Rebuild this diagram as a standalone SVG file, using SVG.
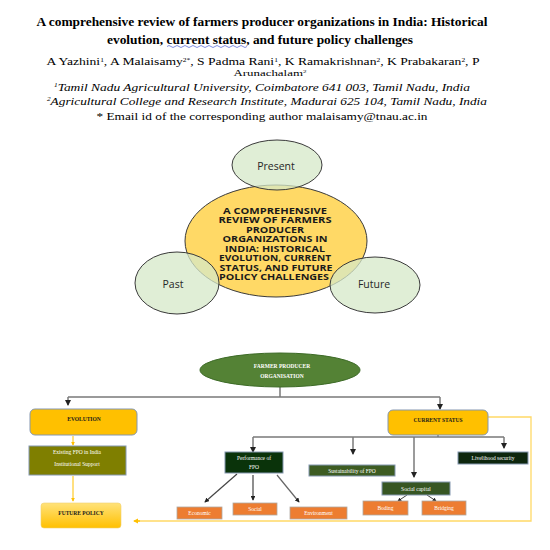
<svg xmlns="http://www.w3.org/2000/svg" width="550" height="550" viewBox="0 0 550 550">
<defs>
<style>
.hd{font-family:"Liberation Serif","Times New Roman",serif;fill:#000;text-anchor:middle}
.vt{font-family:"Open Sans","Liberation Sans",sans-serif;fill:#262626;text-anchor:middle}
.ct{font-family:"Open Sans","Liberation Sans",sans-serif;fill:#1a1a1a;text-anchor:middle;font-weight:bold;font-size:8.3px}
.st{font-family:"Liberation Serif","Times New Roman",serif;text-anchor:middle;font-size:5.5px}
.w{fill:#ffffff}
.k{fill:#1a1a1a;font-weight:bold}
.gc{fill:#d5e8c8;fill-opacity:0.75;stroke:#3a3a3a;stroke-width:1}
.box{stroke:#8497b0;stroke-width:1}
.or{fill:#ed7d31;stroke:#b0a8a0;stroke-width:0.8}
.gl{fill:none;stroke:#7a7a7a;stroke-width:1.5}
.yl{fill:none;stroke:#ffd966;stroke-width:1.3}
</style>
<marker id="ad" viewBox="0 0 6 6" refX="5" refY="3" markerWidth="4" markerHeight="4" orient="auto"><path d="M0,0 L6,3 L0,6 z" fill="#222"/></marker>
<marker id="ay" viewBox="0 0 6 6" refX="5" refY="3" markerWidth="4" markerHeight="4" orient="auto"><path d="M0,0 L6,3 L0,6 z" fill="#ffc000"/></marker>
<linearGradient id="fg" x1="0" y1="0" x2="0" y2="1"><stop offset="0" stop-color="#ffe27a"/><stop offset="1" stop-color="#ffc000"/></linearGradient>
</defs>
<rect width="550" height="550" fill="#ffffff"/>

<g id="header">
<text class="hd" x="262" y="26" font-size="11.5" font-weight="bold" textLength="451" lengthAdjust="spacingAndGlyphs">A comprehensive review of farmers producer organizations in India: Historical</text>
<text class="hd" x="260" y="43.5" font-size="11.5" font-weight="bold" textLength="306" lengthAdjust="spacingAndGlyphs">evolution, current status, and future policy challenges</text>
<path d="M167,46.5 q2,-2 4,0 t4,0 t4,0 t4,0 t4,0 t4,0 t4,0 t4,0 t4,0 t4,0 t4,0 t4,0 t4,0 t4,0 t4,0 t4,0 t4,0 t4,0 t4,0 t4,0" fill="none" stroke="#4a5fd6" stroke-width="0.7"/>
<text class="hd" x="263" y="65" font-size="10" textLength="433" lengthAdjust="spacingAndGlyphs">A Yazhini<tspan font-size="5.5" dy="-3.5">1</tspan><tspan dy="3.5">, A Malaisamy</tspan><tspan font-size="5.5" dy="-3.5">2*</tspan><tspan dy="3.5">, S Padma Rani</tspan><tspan font-size="5.5" dy="-3.5">1</tspan><tspan dy="3.5">, K Ramakrishnan</tspan><tspan font-size="5.5" dy="-3.5">2</tspan><tspan dy="3.5">, K Prabakaran</tspan><tspan font-size="5.5" dy="-3.5">2</tspan><tspan dy="3.5">, P</tspan></text>
<text class="hd" x="270" y="76" font-size="9" textLength="73" lengthAdjust="spacingAndGlyphs">Arunachalam<tspan font-size="5" dy="-3">2</tspan></text>
<text class="hd" x="262" y="91" font-size="11" font-style="italic" textLength="416" lengthAdjust="spacingAndGlyphs"><tspan font-size="6" dy="-4">1</tspan><tspan dy="4">Tamil Nadu Agricultural University, Coimbatore 641 003, Tamil Nadu, India</tspan></text>
<text class="hd" x="267" y="105" font-size="11" font-style="italic" textLength="440" lengthAdjust="spacingAndGlyphs"><tspan font-size="6" dy="-4">2</tspan><tspan dy="4">Agricultural College and Research Institute, Madurai 625 104, Tamil Nadu, India</tspan></text>
<text class="hd" x="262" y="120" font-size="11" textLength="331" lengthAdjust="spacingAndGlyphs">* Email id of the corresponding author malaisamy@tnau.ac.in</text>
</g>

<g id="venn-center">
<ellipse cx="276" cy="241" rx="91" ry="56" fill="#ffd966" stroke="#3a3a3a" stroke-width="1"/>
</g>
<g id="venn-present">
<ellipse class="gc" cx="277" cy="165" rx="45" ry="25"/>
<text class="vt" x="276" y="170" font-size="10.5">Present</text>
</g>
<g id="venn-past">
<ellipse class="gc" cx="177" cy="283" rx="42" ry="31"/>
<text class="vt" x="173" y="288" font-size="10.5">Past</text>
</g>
<g id="venn-future">
<ellipse class="gc" cx="375" cy="285" rx="45" ry="28"/>
<text class="vt" x="374" y="288" font-size="10.5">Future</text>
</g>
<g id="venn-center-text">
<text class="ct" x="275" y="213.5" textLength="104" lengthAdjust="spacingAndGlyphs">A COMPREHENSIVE</text>
<text class="ct" x="275" y="223" textLength="113" lengthAdjust="spacingAndGlyphs">REVIEW OF FARMERS</text>
<text class="ct" x="275" y="232.5" textLength="58" lengthAdjust="spacingAndGlyphs">PRODUCER</text>
<text class="ct" x="275" y="242" textLength="105" lengthAdjust="spacingAndGlyphs">ORGANIZATIONS IN</text>
<text class="ct" x="275" y="251.5" textLength="100" lengthAdjust="spacingAndGlyphs">INDIA: HISTORICAL</text>
<text class="ct" x="275" y="261" textLength="112" lengthAdjust="spacingAndGlyphs">EVOLUTION, CURRENT</text>
<text class="ct" x="276" y="270.5" textLength="113" lengthAdjust="spacingAndGlyphs">STATUS, AND FUTURE</text>
<text class="ct" x="274" y="280" textLength="110" lengthAdjust="spacingAndGlyphs">POLICY CHALLENGES</text>
</g>

<g id="connectors">
<path class="gl" d="M280,387 V397 M68,397 H440" />
<path class="gl" d="M68,397 V405" marker-end="url(#ad)"/>
<path class="gl" d="M440,397 V409" marker-end="url(#ad)"/>
<path class="gl" d="M438,435 V437 M253,437 H504"/>
<path class="gl" d="M253,437 V452" marker-end="url(#ad)"/>
<path class="gl" d="M353,437 V454" marker-end="url(#ad)"/>
<path class="gl" d="M414,437 V477" marker-end="url(#ad)"/>
<path class="gl" d="M504,437 V448" marker-end="url(#ad)"/>
<path d="M237,474 L205,502" stroke="#444" stroke-width="1.2" marker-end="url(#ad)"/>
<path d="M253,475 V500" stroke="#444" stroke-width="1.2" marker-end="url(#ad)"/>
<path d="M277,475 L299,502" stroke="#666" stroke-width="1.2" marker-end="url(#ad)"/>
<path d="M407,495 L398,501" stroke="#444" stroke-width="1" marker-end="url(#ad)"/>
<path d="M427,495 L436,501" stroke="#444" stroke-width="1" marker-end="url(#ad)"/>
<path d="M73,436 V445" stroke="#ffc000" stroke-width="1" marker-end="url(#ay)"/>
<path d="M73,476 V501" stroke="#ffc000" stroke-width="1" marker-end="url(#ay)"/>
<path class="yl" d="M488,417 H531 V521 H136"/>
<path d="M140,521 H134" stroke="#ffc000" stroke-width="1.3" marker-end="url(#ay)"/>
</g>

<g id="fpo">
<ellipse cx="280" cy="370" rx="80" ry="17" fill="#548235" stroke="#3d6b27" stroke-width="1"/>
<text class="st w" x="282" y="368" font-weight="bold" font-size="6">FARMER PRODUCER</text>
<text class="st w" x="282" y="378" font-weight="bold" font-size="6">ORGANISATION</text>
</g>
<g id="evolution">
<rect class="box" x="30" y="409" width="107" height="26" rx="5" fill="#ffc000"/>
<text class="st k" x="84" y="421">EVOLUTION</text>
</g>
<g id="current-status">
<rect class="box" x="388" y="410" width="100" height="25" rx="5" fill="#ffc000"/>
<text class="st k" x="438" y="422">CURRENT STATUS</text>
</g>
<g id="existing-fpo">
<rect class="box" x="29" y="446" width="97" height="29" fill="#7f7f00"/>
<text class="st w" x="77" y="454" font-size="6">Existing FPO in India</text>
<text class="st w" x="77" y="465.5" font-size="6">Institutional Support</text>
</g>
<g id="future-policy">
<rect x="41" y="503" width="80" height="25" rx="3" fill="url(#fg)" stroke="#f0d070" stroke-width="0.6"/>
<text class="st k" x="81" y="515">FUTURE POLICY</text>
</g>
<g id="performance">
<rect class="box" x="225" y="452" width="58" height="21" fill="#0a330a"/>
<text class="st w" x="254" y="460">Performance of</text>
<text class="st w" x="254" y="469">FPO</text>
</g>
<g id="sustainability">
<rect class="box" x="309" y="465" width="86" height="11" fill="#3d5c22"/>
<text class="st w" x="352" y="472.5">Sustainability of FPO</text>
</g>
<g id="social-capital">
<rect class="box" x="382" y="482" width="68" height="13" fill="#375623"/>
<text class="st w" x="416" y="490.5">Social capital</text>
</g>
<g id="livelihood">
<rect class="box" x="458" y="452" width="70" height="12" fill="#0d260d"/>
<text class="st w" x="493" y="460">Livelihood security</text>
</g>
<g id="economic">
<rect class="or" x="177" y="507" width="45" height="12"/>
<text class="st w" x="199.5" y="515">Economic</text>
</g>
<g id="social">
<rect class="or" x="233" y="503" width="44" height="12"/>
<text class="st w" x="255" y="511">Social</text>
</g>
<g id="environment">
<rect class="or" x="290" y="507" width="57" height="12"/>
<text class="st w" x="318.5" y="515">Environment</text>
</g>
<g id="bonding">
<rect class="or" x="363" y="501" width="45" height="14"/>
<text class="st w" x="385.5" y="510">Boding</text>
</g>
<g id="bridging">
<rect class="or" x="422" y="501" width="44" height="14"/>
<text class="st w" x="444" y="510">Bridging</text>
</g>
</svg>
